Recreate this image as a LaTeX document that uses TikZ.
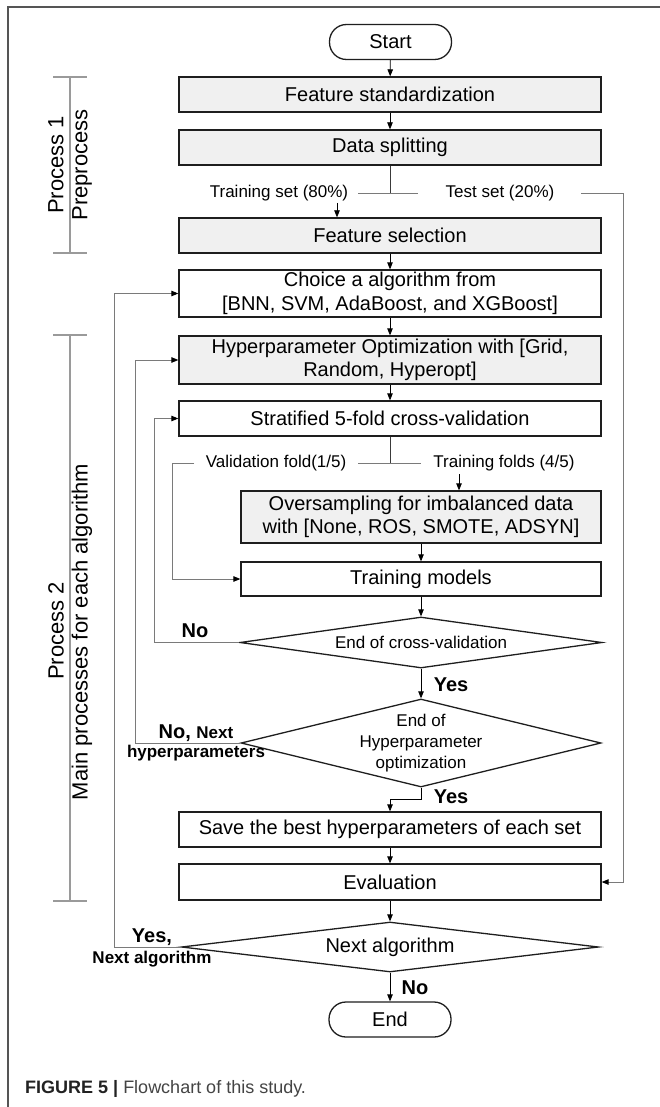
\documentclass[tikz,border=0pt]{standalone}
\usepackage{fontspec}
\setmainfont{Liberation Sans}
\usetikzlibrary{arrows.meta,shapes.geometric,calc}
\definecolor{boxc}{HTML}{1E1E1E}
\definecolor{fillc}{HTML}{F0F0F0}
\definecolor{linec}{HTML}{7A7A7A}
\definecolor{darkl}{HTML}{3A3A3A}
\definecolor{brkc}{HTML}{9A9A9A}
\definecolor{framec}{HTML}{555555}
\definecolor{capd}{HTML}{222222}
\definecolor{capg}{HTML}{444444}
\begin{document}
\begin{tikzpicture}[x=1pt,y=-1pt,
  box/.style={draw=boxc, line width=1.3pt, minimum width=422pt, inner sep=0pt, align=center, font=\fontsize{20}{23.5}\selectfont},
  gbox/.style={box, fill=fillc},
  term/.style={draw=boxc, line width=1.3pt, rounded corners=17pt, minimum width=122pt, minimum height=35pt, inner sep=0pt, font=\fontsize{20}{24}\selectfont},
  dia/.style={draw=boxc, line width=1.3pt, diamond, inner sep=0pt},
  lbl/.style={font=\fontsize{17}{21}\selectfont, inner sep=0pt, align=center},
  blbl/.style={font=\bfseries\fontsize{20}{22}\selectfont, inner sep=0pt},
  bsml/.style={font=\bfseries\fontsize{17}{20}\selectfont, inner sep=0pt},
  rot/.style={rotate=90, font=\fontsize{22}{24}\selectfont, inner sep=0pt},
  arr/.style={-{Triangle[length=7pt,width=5.5pt]}, line width=0.8pt, draw=black},
  garr/.style={-{Triangle[length=7pt,width=5.5pt,color=black]}, line width=0.9pt, draw=linec},
  gline/.style={line width=0.9pt, draw=linec},
  dline/.style={line width=0.9pt, draw=darkl},
  brk/.style={line width=1.2pt, draw=brkc},
]
\useasboundingbox[fill=white] (0,0) rectangle (660,1107);
% frame
\draw[framec, line width=1.5pt] (8,1107) -- (8,7) -- (660,7);

% main nodes
\node[term] (start) at (390.5,42) {Start};
\node[gbox, minimum height=35pt] (fs) at (390,94.5) {Feature standardization};
\node[gbox, minimum height=35pt] (ds) at (390,147.5) {Data splitting};
\node[gbox, minimum height=35pt] (fsel) at (390,235.5) {Feature selection};
\node[box, minimum height=47pt] (choice) at (390,293.5) {Choice a algorithm from\\{[}BNN, SVM, AdaBoost, and XGBoost{]}};
\node[gbox, minimum height=48pt] (hyper) at (390,360) {Hyperparameter Optimization with [Grid,\\Random, Hyperopt]};
\node[box, minimum height=35pt] (strat) at (390,418.5) {Stratified 5-fold cross-validation};
\node[gbox, minimum width=360pt, minimum height=52pt] (over) at (421,517) {Oversampling for imbalanced data\\with [None, ROS, SMOTE, ADSYN]};
\node[box, minimum width=360pt, minimum height=34pt] (train) at (421,579) {Training models};
\node[dia, minimum width=362pt, minimum height=51pt] (d1) at (421,642.5) {};
\node[lbl] (t1) at (d1) {End of cross-validation};
\node[dia, minimum width=360pt, minimum height=88pt] (d2) at (421,743) {};
\node[lbl] (t2) at (d2) {End of\\Hyperparameter\\optimization};
\node[box, minimum height=35pt] (save) at (390,829.5) {Save the best hyperparameters of each set};
\node[box, minimum height=36pt] (eval) at (390,882) {Evaluation};
\node[dia, minimum width=417pt, minimum height=50pt] (d3) at (390,947) {};
\node[font=\fontsize{20}{24}\selectfont, inner sep=0pt] (t3) at (d3) {Next algorithm};
\node[term] (end) at (390,1019.5) {End};

% split labels
\node[lbl] (trs) at (279,193) {Training set (80\%)};
\node[lbl] (tes) at (500,193) {Test set (20\%)};
\node[lbl] (vf) at (276,463) {Validation fold(1/5)};
\node[lbl] (tf) at (504,463) {Training folds (4/5)};

% connectors
\draw[arr] (start) -- (fs);
\draw[arr] (fs) -- (ds);
\coordinate (j1) at (390,193);
\coordinate (j1l) at (358,193);
\coordinate (j1r) at (418,193);
\draw[dline] (ds.south) -- (j1);
\draw[gline] (j1l) -- (j1r);
\coordinate (tra) at (337,203);
\draw[arr] (tra) -- (tra |- fsel.north);
\coordinate (tsl) at (581,193);
\coordinate (tsc) at (623,193);
\draw[garr] (tsl) -- (tsc) |- (eval.east);
\draw[arr] (fsel) -- (choice);
\draw[arr] (choice) -- (hyper);
\draw[arr] (hyper) -- (strat);
\coordinate (j2) at (390,463);
\coordinate (j2l) at (358,463);
\coordinate (j2r) at (421,463);
\draw[dline] (strat.south) -- (j2);
\draw[gline] (j2l) -- (j2r);
\coordinate (vfl) at (194,463);
\coordinate (vfc) at (172,463);
\draw[garr] (vfl) -- (vfc) |- (train.west);
\coordinate (tfa) at (459,474);
\draw[arr] (tfa) -- (tfa |- over.north);
\draw[arr] (over) -- (train);
\draw[arr] (train) -- (d1);
\coordinate (c1) at (154,642.5);
\draw[garr] (d1.west) -- (c1) |- (strat.west);
\node[blbl] (no1) at (195,631) {No};
\draw[arr] (d1) -- (d2);
\node[blbl] (yes1) at (451,685) {Yes};
\coordinate (c2) at (135,743);
\draw[garr] (d2.west) -- (c2) |- (hyper.west);
\node[inner sep=0pt] (no2) at (196,733) {\bfseries\fontsize{20}{22}\selectfont No, \fontsize{17}{20}\selectfont Next};
\node[bsml] (no2b) at (196,753) {hyperparameters};
\coordinate (c3) at (421,799);
\draw[arr] (d2.south) -- (c3) -| (save.north);
\node[blbl] (yes2) at (451,797) {Yes};
\draw[arr] (save) -- (eval);
\draw[arr] (eval) -- (d3);
\coordinate (c4) at (114,947);
\draw[garr] (d3.west) -- (c4) |- (choice.west);
\node[blbl] (yes3) at (152,937) {Yes,};
\node[bsml] (yes3b) at (152,959) {Next algorithm};
\draw[arr] (d3) -- (end);
\node[blbl] (no3) at (415,988) {No};

% brackets
\draw[brk] (70,77) -- (70,253);
\draw[brk] (53,77) -- (87,77);
\draw[brk] (53,253) -- (87,253);
\draw[brk] (70,335) -- (70,901);
\draw[brk] (53,335) -- (87,335);
\draw[brk] (53,901) -- (87,901);
\node[rot] (p1a) at (56,165) {Process 1};
\node[rot] (p1b) at (82,165) {Preprocess};
\node[rot] (p2a) at (56,631) {Process 2};
\node[rot] (p2b) at (82,632) {Main processes for each algorithm};

% caption
\node[anchor=base west, inner sep=0pt] (cap) at (25,1093) {\fontsize{18}{20}\selectfont{\color{capd}\bfseries FIGURE 5} {\color{capd}\bfseries |} {\color{capg}Flowchart of this study.}};
\end{tikzpicture}
\end{document}
